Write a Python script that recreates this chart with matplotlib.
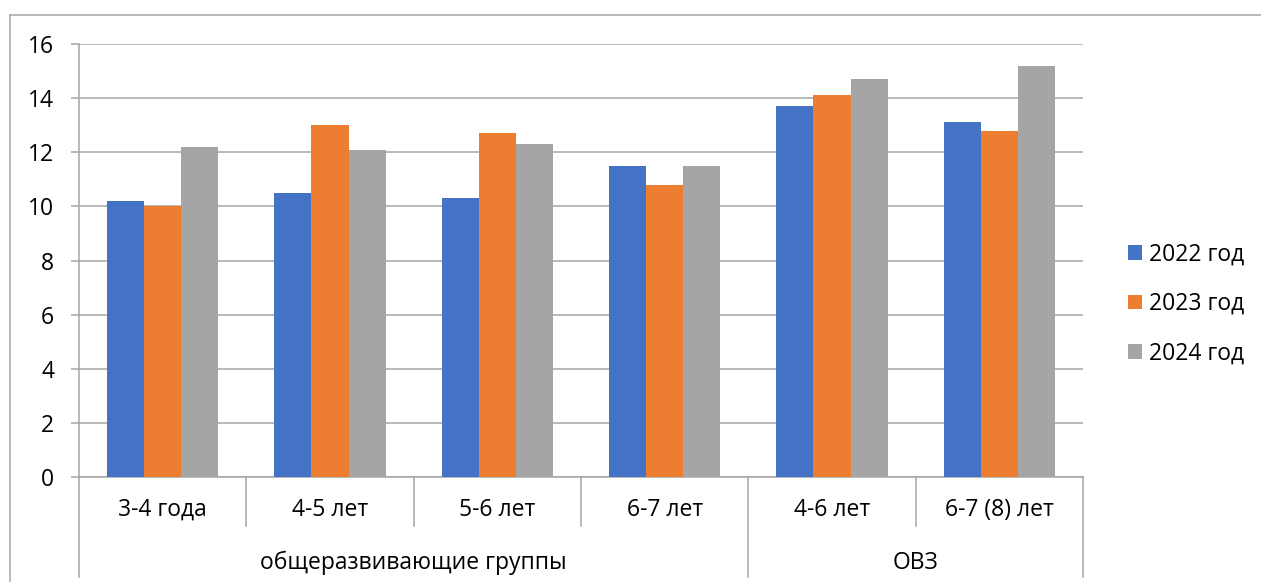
import numpy as np
import matplotlib
matplotlib.use('Agg')
import matplotlib.pyplot as plt
from matplotlib.lines import Line2D
import matplotlib.transforms as mtransforms

plt.rcParams['font.family'] = ['Open Sans', 'DejaVu Sans']

# data
categories = ['3-4 года', '4-5 лет', '5-6 лет', '6-7 лет', '4-6 лет', '6-7 (8) лет']
groups = ['общеразвивающие группы', 'ОВЗ']
group_sizes = [4, 2]
series_names = ['2022 год', '2023 год', '2024 год']
vals_2022 = [10.2, 10.5, 10.3, 11.5, 13.7, 13.1]
vals_2023 = [10.0, 13.0, 12.7, 10.8, 14.1, 12.8]
vals_2024 = [12.2, 12.1, 12.3, 11.5, 14.7, 15.2]
colors = ['#4472C4', '#ED7D31', '#A5A5A5']
grid_c = '#A6A6A6'
fs = 16.5

W, H = 1261, 582
fig = plt.figure(figsize=(W / 100, H / 100), dpi=100)
ax = fig.add_axes([79 / W, (H - 477) / H, 1004 / W, 433 / H])

x = np.arange(len(categories))
bw = 1 / 4.5
bars = []
for i, (vals, c) in enumerate(zip([vals_2022, vals_2023, vals_2024], colors)):
    b = ax.bar(x + (i - 1) * bw, vals, bw, color=c, zorder=3, label=series_names[i])
    bars.append(b)

ax.set_xlim(-0.5, len(categories) - 0.5)
ax.set_ylim(0, 16)
ax.set_yticks(np.arange(0, 17, 2))
ax.yaxis.grid(True, color=grid_c, lw=1.1, zorder=0)
ax.set_xticks([])
for s in ['top', 'right']:
    ax.spines[s].set_visible(False)
for s in ['left', 'bottom']:
    ax.spines[s].set_color(grid_c)
    ax.spines[s].set_linewidth(1.1)
ax.tick_params(axis='y', length=6, color=grid_c, width=1.1, pad=12, labelsize=fs)

# two level category axis
trans = mtransforms.blended_transform_factory(ax.transData, ax.transAxes)
bounds = np.cumsum([0] + group_sizes) - 0.5
for k in range(len(categories) + 1):
    xb = k - 0.5
    y_end = -0.231 if xb in bounds else -0.113
    ax.add_line(Line2D([xb, xb], [0, y_end], transform=trans, color=grid_c,
                       lw=1.1, clip_on=False))
for xi, lab in zip(x, categories):
    ax.text(xi, -0.076, lab, transform=trans, ha='center', va='center', fontsize=fs)
for g, (a, b) in enumerate(zip(bounds[:-1], bounds[1:])):
    ax.text((a + b) / 2, -0.199, groups[g], transform=trans, ha='center', va='center',
            fontsize=fs)

# outer chart frame
fig.add_artist(Line2D([10 / W, 10 / W], [0, (H - 15) / H], transform=fig.transFigure,
                      color=grid_c, lw=1.1))
fig.add_artist(Line2D([10 / W, 1], [(H - 15) / H, (H - 15) / H], transform=fig.transFigure,
                      color=grid_c, lw=1.1))

leg = ax.legend(handles=bars, loc='center left', bbox_to_anchor=(1117 / W, (H - 304) / H),
                bbox_transform=fig.transFigure, frameon=False, fontsize=fs,
                handlelength=0.6, handleheight=0.6, handletextpad=0.3, labelspacing=1.12,
                borderpad=0)

fig.savefig('out.png', dpi=100)
